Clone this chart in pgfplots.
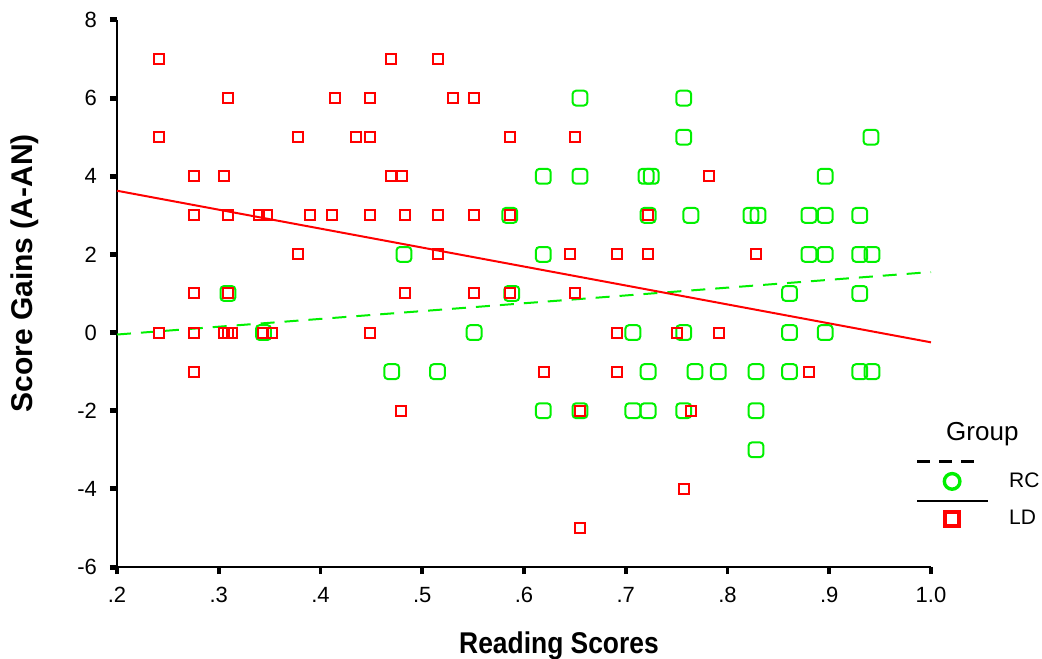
\documentclass[border=0pt]{standalone}
\usepackage{fontspec}
\setmainfont{Liberation Sans}
\newfontfamily\xlabfont[FakeStretch=0.88]{Liberation Sans}
\usepackage{pgfplots}
\pgfplotsset{compat=1.18}
\usetikzlibrary{calc}
\definecolor{rcgreen}{RGB}{0,240,0}
\definecolor{ldred}{RGB}{255,0,0}

% rounded square mark, as the RC points are drawn
\def\rr{1.7pt}
\pgfdeclareplotmark{rsquare}{%
  \pgfpathmoveto{\pgfpointadd{\pgfpoint{-\pgfplotmarksize}{-\pgfplotmarksize}}{\pgfpoint{\rr}{0pt}}}%
  \pgfpathlineto{\pgfpointadd{\pgfpoint{\pgfplotmarksize}{-\pgfplotmarksize}}{\pgfpoint{-\rr}{0pt}}}%
  \pgfpatharc{-90}{0}{\rr}%
  \pgfpathlineto{\pgfpointadd{\pgfpoint{\pgfplotmarksize}{\pgfplotmarksize}}{\pgfpoint{0pt}{-\rr}}}%
  \pgfpatharc{0}{90}{\rr}%
  \pgfpathlineto{\pgfpointadd{\pgfpoint{-\pgfplotmarksize}{\pgfplotmarksize}}{\pgfpoint{\rr}{0pt}}}%
  \pgfpatharc{90}{180}{\rr}%
  \pgfpathlineto{\pgfpointadd{\pgfpoint{-\pgfplotmarksize}{-\pgfplotmarksize}}{\pgfpoint{0pt}{\rr}}}%
  \pgfpatharc{180}{270}{\rr}%
  \pgfpathclose
  \pgfusepathqstroke}

\begin{document}
\begin{tikzpicture}
\begin{axis}[
  scale only axis,
  width=407pt, height=273.5pt,
  xmin=0.2, xmax=1.0, ymin=-6, ymax=8,
  axis x line=bottom, axis y line=left,
  axis line style={-, line width=1pt, black},
  xtick={0.2,0.3,0.4,0.5,0.6,0.7,0.8,0.9,1.0},
  xticklabels={.2,.3,.4,.5,.6,.7,.8,.9,1.0},
  ytick={-6,-4,-2,0,2,4,6,8},
  yticklabels={-6,-4,-2,0,2,4,6,8},
  tick align=outside,
  major tick length=3.5pt,
  xtick style={line width=1.8pt, black},
  ytick style={line width=2.5pt, black},
  tick label style={font=\fontsize{11}{11}\selectfont},
  yticklabel style={xshift=-3pt},
  xticklabel style={yshift=-3pt},
  xlabel={Reading Scores},
  ylabel={Score Gains (A-AN)},
  xlabel style={at={(axis description cs:0.543,0)}, anchor=north, yshift=-32pt,
                inner sep=0pt, font=\xlabfont\bfseries\fontsize{15}{15}\selectfont},
  ylabel style={at={(axis description cs:-0.113,0.537)}, anchor=center,
                inner sep=0pt, font=\bfseries\fontsize{15}{15}\selectfont},
  legend style={at={(axis description cs:0.9816,0.265)}, anchor=north west,
                draw=none, fill=none, inner sep=0pt, outer sep=0pt,
                row sep=4.5pt, column sep=10pt,
                nodes={inner sep=0pt},
                font=\fontsize{10.5}{10.5}\selectfont},
  legend cell align=left,
  clip=false,
]
% RC group
\addplot[only marks, forget plot, mark=rsquare, mark size=3.7pt,
  mark options={draw=rcgreen, line width=1pt}] coordinates {
  (0.655,6) (0.757,6)
  (0.757,5) (0.941,5)
  (0.619,4) (0.655,4) (0.720,4) (0.725,4) (0.896,4)
  (0.586,3) (0.722,3) (0.764,3) (0.823,3) (0.830,3) (0.880,3) (0.896,3) (0.930,3)
  (0.482,2) (0.619,2) (0.880,2) (0.896,2) (0.930,2) (0.942,2)
  (0.309,1) (0.588,1) (0.861,1) (0.930,1)
  (0.344,0) (0.551,0) (0.707,0) (0.757,0) (0.861,0) (0.896,0)
  (0.470,-1) (0.515,-1) (0.722,-1) (0.768,-1) (0.791,-1) (0.828,-1) (0.861,-1) (0.930,-1) (0.942,-1)
  (0.619,-2) (0.655,-2) (0.707,-2) (0.722,-2) (0.757,-2) (0.828,-2)
  (0.828,-3)
};
% LD group
\addplot[only marks, forget plot, mark=square, mark size=2.5pt,
  mark options={draw=ldred, line width=1pt}] coordinates {
  (0.241,7) (0.469,7) (0.515,7)
  (0.309,6) (0.414,6) (0.449,6) (0.530,6) (0.551,6)
  (0.241,5) (0.378,5) (0.435,5) (0.449,5) (0.586,5) (0.650,5)
  (0.276,4) (0.305,4) (0.469,4) (0.480,4) (0.782,4)
  (0.276,3) (0.309,3) (0.340,3) (0.347,3) (0.390,3) (0.411,3) (0.449,3) (0.483,3)
  (0.515,3) (0.551,3) (0.586,3) (0.722,3)
  (0.378,2) (0.515,2) (0.645,2) (0.691,2) (0.722,2) (0.828,2)
  (0.276,1) (0.309,1) (0.483,1) (0.551,1) (0.586,1) (0.650,1)
  (0.241,0) (0.276,0) (0.305,0) (0.309,0) (0.313,0) (0.343,0) (0.352,0) (0.449,0)
  (0.691,0) (0.750,0) (0.792,0)
  (0.276,-1) (0.620,-1) (0.691,-1) (0.880,-1)
  (0.479,-2) (0.655,-2) (0.764,-2)
  (0.757,-4)
  (0.655,-5)
};
% fit lines
\addplot[forget plot, rcgreen, line width=1pt, dash pattern=on 7pt off 5pt]
  coordinates {(0.2,-0.05) (1.0,1.55)};
\addplot[forget plot, ldred, line width=1pt]
  coordinates {(0.2,3.63) (1.0,-0.25)};

% legend
\addlegendimage{empty legend}
\addlegendentry{\hspace*{-31.5pt}\fontsize{13}{13}\selectfont Group}
\addlegendimage{legend image code/.code={
  \draw[black, line width=1.1pt, dash pattern=on 6.5pt off 4.5pt] (0pt,10pt) -- (32pt,10pt);
  \draw[rcgreen, line width=1.7pt] (17.5pt,0pt) circle (3.9pt);
  \path (0pt,14.4pt);}}
\addlegendentry{RC}
\addlegendimage{legend image code/.code={
  \draw[black, line width=1.1pt] (0pt,9pt) -- (35.5pt,9pt);
  \draw[ldred, line width=2pt] (13.9pt,-3.6pt) rectangle (21.1pt,3.6pt);}}
\addlegendentry{LD}

\coordinate (bbsw) at (rel axis cs:0,0);
\coordinate (bbne) at (rel axis cs:1,1);
\end{axis}
\pgfresetboundingbox
\path ($(bbsw)+(-58.5pt,-45.5pt)$) rectangle ($(bbne)+(55.5pt,10pt)$);
\end{tikzpicture}
\end{document}
